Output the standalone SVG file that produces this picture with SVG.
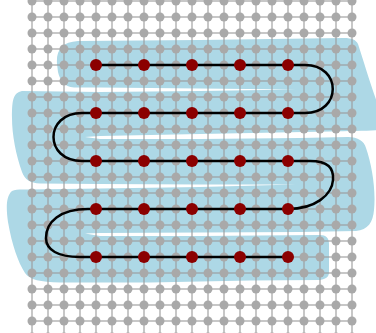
<svg xmlns="http://www.w3.org/2000/svg" width="376" height="333" viewBox="0 0 376 333">
<defs>
<style>
.blob{fill:#add8e6;stroke:none}
.gl{stroke:#999;stroke-opacity:0.55;stroke-width:2;fill:none}
.gd{fill:#a9a9a9}
.node circle{fill:#8b0000}
.conn{fill:none;stroke:#000;stroke-width:2.5}
</style>
<pattern id="gridDots" x="0" y="1" width="16" height="16" patternUnits="userSpaceOnUse">
<circle cx="0" cy="0" r="4.5" class="gd"/>
<circle cx="16" cy="0" r="4.5" class="gd"/>
<circle cx="0" cy="16" r="4.5" class="gd"/>
<circle cx="16" cy="16" r="4.5" class="gd"/>
</pattern>
</defs>
<rect width="376" height="333" fill="#fff"/>
<path class="blob" d="M57,64 C56,50 62,42 78,41 L200,40 L344,38 C352,38 356,40 358,44 C364,62 372,90 380,110 L380,130 C370,131 350,131 330,131.5 L200,134 L100,136 L85,137 L100,139 L200,139 L300,138 L348,137 C358,137 364,141 366,148 C372,165 376,190 374,210 C373,222 368,230 356,231 L300,232 L200,232.5 L100,233 L85,233.5 L100,236 L200,236 L320,235 C326,235 329,238 329,244 L329,272 C329,277 326,279 320,280 L250,280.5 L150,282.5 L60,282.5 C40,282 30,280 25,273 C18,262 12,245 8,222 C6,208 6,196 12,191 C16,189 22,189.5 30,189.5 L100,188.5 L200,187 L296,184.5 L200,184.5 L100,184 L40,183.5 C30,183 25,180 22,172 C16,155 12,135 12,118 C12,100 13,93 22,91 L100,92 L200,91 L296,89.5 L200,88.5 L100,87.5 L74,87.5 C64,87 60,80 58,72 Z"/>
<g id="grid">
<path class="gl" d="M32,-15V345M48,-15V345M64,-15V345M80,-15V345M96,-15V345M112,-15V345M128,-15V345M144,-15V345M160,-15V345M176,-15V345M192,-15V345M208,-15V345M224,-15V345M240,-15V345M256,-15V345M272,-15V345M288,-15V345M304,-15V345M320,-15V345M336,-15V345M352,-15V345"/>
<path class="gl" d="M32,1H352M32,17H352M32,33H352M32,49H352M32,65H352M32,81H352M32,97H352M32,113H352M32,129H352M32,145H352M32,161H352M32,177H352M32,193H352M32,209H352M32,225H352M32,241H352M32,257H352M32,273H352M32,289H352M32,305H352M32,321H352M32,337H352"/>
<rect x="27" y="-4" width="330" height="346" fill="url(#gridDots)" transform="translate(0,0)"/>
</g>
<g id="connectors">
<path class="conn" d="M96,65 H305 C342,65 342,113 305,113 H82 C44,113 44,161 82,161 H310 C328,161 334,168 333,180 C332,195 315,209 288,209 H88 C60,209 46,222 46,238 C46,250 58,257 80,257 H288"/>
</g>
<g id="n1" class="node"><circle cx="96" cy="65" r="6"/></g>
<g id="n2" class="node"><circle cx="144" cy="65" r="6"/></g>
<g id="n3" class="node"><circle cx="192" cy="65" r="6"/></g>
<g id="n4" class="node"><circle cx="240" cy="65" r="6"/></g>
<g id="n5" class="node"><circle cx="288" cy="65" r="6"/></g>
<g id="n6" class="node"><circle cx="96" cy="113" r="6"/></g>
<g id="n7" class="node"><circle cx="144" cy="113" r="6"/></g>
<g id="n8" class="node"><circle cx="192" cy="113" r="6"/></g>
<g id="n9" class="node"><circle cx="240" cy="113" r="6"/></g>
<g id="n10" class="node"><circle cx="288" cy="113" r="6"/></g>
<g id="n11" class="node"><circle cx="96" cy="161" r="6"/></g>
<g id="n12" class="node"><circle cx="144" cy="161" r="6"/></g>
<g id="n13" class="node"><circle cx="192" cy="161" r="6"/></g>
<g id="n14" class="node"><circle cx="240" cy="161" r="6"/></g>
<g id="n15" class="node"><circle cx="288" cy="161" r="6"/></g>
<g id="n16" class="node"><circle cx="96" cy="209" r="6"/></g>
<g id="n17" class="node"><circle cx="144" cy="209" r="6"/></g>
<g id="n18" class="node"><circle cx="192" cy="209" r="6"/></g>
<g id="n19" class="node"><circle cx="240" cy="209" r="6"/></g>
<g id="n20" class="node"><circle cx="288" cy="209" r="6"/></g>
<g id="n21" class="node"><circle cx="96" cy="257" r="6"/></g>
<g id="n22" class="node"><circle cx="144" cy="257" r="6"/></g>
<g id="n23" class="node"><circle cx="192" cy="257" r="6"/></g>
<g id="n24" class="node"><circle cx="240" cy="257" r="6"/></g>
<g id="n25" class="node"><circle cx="288" cy="257" r="6"/></g>
</svg>
